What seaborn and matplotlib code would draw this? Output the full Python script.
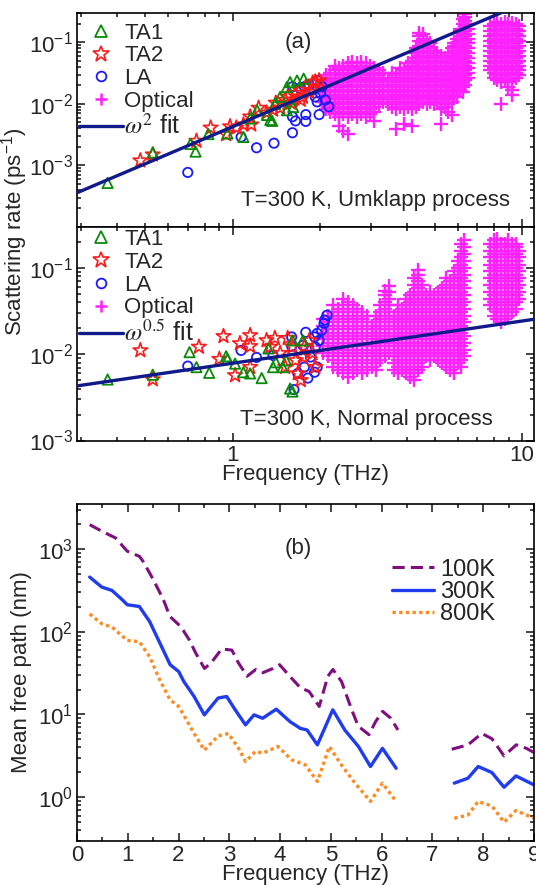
import numpy as np
import pandas as pd
import matplotlib
matplotlib.use("Agg")
import matplotlib.pyplot as plt
import seaborn as sns
from matplotlib.ticker import LogLocator, NullFormatter, MultipleLocator, FixedLocator, FixedFormatter
from matplotlib.lines import Line2D

# ---------------- data: panel (a) Umklapp ----------------
ta1_u_f = [0.37, 0.53, 0.715, 0.745, 0.825, 0.96, 1.09, 1.15, 1.215, 1.315, 1.35, 1.40, 1.46, 1.54,
           1.58, 1.67, 1.76, 1.54, 1.62, 1.37]
ta1_u_r = [5.2e-4, 1.62e-3, 2.24e-3, 1.68e-3, 3.24e-3, 3.3e-3, 2.9e-3, 5.8e-3, 7.9e-3, 6.6e-3, 5.5e-3,
           0.010, 0.013, 0.0188, 0.0226, 0.024, 0.0257, 7.9e-3, 8.9e-3, 5.3e-3]
ta2_u_f = [0.48, 0.53, 0.75, 0.84, 0.95, 0.98, 1.03, 1.09, 1.15, 1.16, 1.23, 1.31, 1.38, 1.41, 1.46,
           1.52, 1.55, 1.59, 1.65, 1.71, 1.75, 1.79, 1.84, 1.89, 1.93, 1.99, 1.61, 1.72]
ta2_u_r = [1.2e-3, 1.5e-3, 2.5e-3, 4.1e-3, 3.2e-3, 4.3e-3, 4.1e-3, 4.6e-3, 6.2e-3, 4.6e-3, 8.6e-3, 7.2e-3,
           8.0e-3, 0.0104, 8.6e-3, 0.0116, 0.013, 0.0104, 0.015, 0.0168, 0.013, 0.019, 0.0156, 0.022,
           0.023, 0.024, 0.0116, 0.0116]
la_u_f = [0.70, 1.07, 1.21, 1.39, 1.61, 1.61, 1.65, 1.79, 1.79, 1.99, 1.96, 2.09, 2.15, 1.61, 1.71, 1.77,
          1.84, 1.92, 1.96, 1.89, 2.01, 2.04, 1.93]
la_u_r = [7.7e-4, 2.9e-3, 1.94e-3, 2.3e-3, 3.4e-3, 6.2e-3, 5.3e-3, 6.7e-3, 5.2e-3, 6.7e-3, 0.0108, 0.0116,
          9.0e-3, 0.019, 0.018, 0.019, 0.020, 0.022, 0.024, 0.0168, 0.015, 0.019, 0.013]
opt_u_cols_f = [2.03, 2.10, 2.17, 2.25, 2.33, 2.41, 2.50, 2.59, 2.68, 2.78, 2.88, 2.98, 3.09, 3.20, 3.31,
                3.45, 3.56, 3.67, 3.79, 3.91, 4.04, 4.17,
                4.30, 4.42, 4.55, 4.68, 4.82, 4.96, 5.10, 5.25, 5.40, 5.56, 5.72,
                5.84, 5.97, 6.10, 6.23, 6.36, 6.49,
                7.75, 7.98, 8.22, 8.46, 8.71, 8.97, 9.24, 9.52, 9.78]
opt_u_cols_r = [
    [0.0108, 0.013, 0.0155, 0.0186, 0.0223],
    [0.0082, 0.0099, 0.0118, 0.0142, 0.017, 0.0204, 0.0245, 0.0293],
    [0.0075, 0.009, 0.0108, 0.013, 0.0155, 0.0186, 0.0223, 0.0268, 0.032],
    [0.0068, 0.0082, 0.0099, 0.0118, 0.0142, 0.017, 0.0204, 0.0245, 0.0293, 0.035, 0.042],
    [0.0043, 0.0062, 0.0075, 0.009, 0.0108, 0.013, 0.0155, 0.0186, 0.0223, 0.0268, 0.032, 0.0385],
    [0.0036, 0.0068, 0.0082, 0.0099, 0.0118, 0.0142, 0.017, 0.0204, 0.0245, 0.0293, 0.035, 0.042],
    [0.0033, 0.0062, 0.0075, 0.009, 0.0108, 0.013, 0.0155, 0.0186, 0.0223, 0.0268, 0.032, 0.0385, 0.046],
    [0.0068, 0.0082, 0.0099, 0.0118, 0.0142, 0.017, 0.0204, 0.0245, 0.0293, 0.035, 0.042, 0.048],
    [0.0062, 0.0075, 0.009, 0.0108, 0.013, 0.0155, 0.0186, 0.0223, 0.0268, 0.032, 0.0385, 0.046],
    [0.0068, 0.0082, 0.0099, 0.0118, 0.0142, 0.017, 0.0204, 0.0245, 0.0293, 0.035, 0.042, 0.048],
    [0.0062, 0.0075, 0.009, 0.0108, 0.013, 0.0155, 0.0186, 0.0223, 0.0268, 0.032, 0.0385, 0.046],
    [0.0068, 0.0082, 0.0099, 0.0118, 0.0142, 0.017, 0.0204, 0.0245, 0.0293, 0.035, 0.042],
    [0.0052, 0.0075, 0.009, 0.0108, 0.013, 0.0155, 0.0186, 0.0223, 0.0268, 0.032, 0.0385],
    [0.0099, 0.0118, 0.0142, 0.017, 0.0204, 0.0245, 0.0293, 0.035],
    [0.0108, 0.013, 0.0155, 0.0186, 0.0223, 0.0268, 0.032],
    [0.0099, 0.0118, 0.0142, 0.017, 0.0204, 0.0245],
    [0.009, 0.0108, 0.013, 0.0155, 0.0186, 0.0223, 0.0268, 0.032],
    [0.0039, 0.0082, 0.0099, 0.0118, 0.0142, 0.017, 0.0204, 0.0245, 0.0293],
    [0.009, 0.0108, 0.013, 0.0155, 0.0186, 0.0223, 0.0268, 0.032, 0.0385],
    [0.0047, 0.0082, 0.0099, 0.0118, 0.0142, 0.017, 0.0204, 0.0245, 0.0293, 0.035],
    [0.009, 0.0108, 0.013, 0.0155, 0.0186, 0.0223, 0.0268, 0.032, 0.0385, 0.046],
    [0.0043, 0.0082, 0.0099, 0.0118, 0.0142, 0.017, 0.0204, 0.0245, 0.0293, 0.035, 0.042, 0.050],
    [0.009, 0.0108, 0.013, 0.0155, 0.0186, 0.0223, 0.0268, 0.032, 0.0385, 0.046, 0.055, 0.066, 0.08],
    [0.0099, 0.0118, 0.0142, 0.017, 0.0204, 0.0245, 0.0293, 0.035, 0.042, 0.050, 0.060, 0.072, 0.087,
     0.105, 0.126, 0.14],
    [0.0108, 0.013, 0.0155, 0.0186, 0.0223, 0.0268, 0.032, 0.0385, 0.046, 0.055, 0.066, 0.08, 0.096,
     0.115, 0.138],
    [0.0099, 0.0118, 0.0142, 0.017, 0.0204, 0.0245, 0.0293, 0.035, 0.042, 0.050, 0.060, 0.072, 0.087,
     0.105],
    [0.0108, 0.013, 0.0155, 0.0186, 0.0223, 0.0268, 0.032, 0.0385, 0.046, 0.055, 0.066, 0.08, 0.096],
    [0.0099, 0.0118, 0.0142, 0.017, 0.0204, 0.0245, 0.0293, 0.035, 0.042, 0.050, 0.060, 0.072],
    [0.0108, 0.013, 0.0155, 0.0186, 0.0223, 0.0268, 0.032, 0.0385, 0.046, 0.055, 0.066],
    [0.0048, 0.0082, 0.0099, 0.0118, 0.0142, 0.017, 0.0204, 0.0245, 0.0293, 0.035, 0.042, 0.050, 0.060],
    [0.009, 0.0108, 0.013, 0.0155, 0.0186, 0.0223, 0.0268, 0.032, 0.0385, 0.046, 0.055],
    [0.0075, 0.0099, 0.0118, 0.0142, 0.017, 0.0204, 0.0245, 0.0293, 0.035, 0.042, 0.050, 0.060],
    [0.0066, 0.0108, 0.013, 0.0155, 0.0186, 0.0223, 0.0268, 0.032, 0.0385, 0.046, 0.055, 0.066, 0.08],
    [0.0142, 0.017, 0.0204, 0.0245, 0.0293, 0.035, 0.042, 0.050, 0.060, 0.072, 0.087, 0.096],
    [0.013, 0.0155, 0.0186, 0.0223, 0.0268, 0.032, 0.0385, 0.046, 0.055, 0.066, 0.08, 0.096, 0.115],
    [0.017, 0.0204, 0.0245, 0.0293, 0.035, 0.042, 0.050, 0.060, 0.072, 0.087, 0.105, 0.126, 0.151,
     0.165],
    [0.0155, 0.0186, 0.0223, 0.0268, 0.032, 0.0385, 0.046, 0.055, 0.066, 0.08, 0.096, 0.115, 0.138,
     0.165, 0.2, 0.24],
    [0.0204, 0.0245, 0.0293, 0.035, 0.042, 0.050, 0.060, 0.072, 0.087, 0.105, 0.126, 0.151, 0.182, 0.22,
     0.26, 0.285],
    [0.0268, 0.032, 0.0385, 0.046, 0.055, 0.066, 0.08, 0.096, 0.115, 0.138, 0.165, 0.2],
    [0.035, 0.042, 0.050, 0.060, 0.072, 0.087, 0.105, 0.126, 0.151, 0.182],
    [0.0268, 0.032, 0.0385, 0.046, 0.055, 0.066, 0.08, 0.096, 0.115, 0.138, 0.165, 0.2],
    [0.0245, 0.0293, 0.035, 0.042, 0.050, 0.060, 0.072, 0.087, 0.105, 0.126, 0.151, 0.182, 0.215],
    [0.0101, 0.0223, 0.0268, 0.032, 0.0385, 0.046, 0.055, 0.066, 0.08, 0.096, 0.115, 0.138, 0.165, 0.2],
    [0.0245, 0.0293, 0.035, 0.042, 0.050, 0.060, 0.072, 0.087, 0.105, 0.126, 0.151, 0.182, 0.215],
    [0.0186, 0.0223, 0.0268, 0.032, 0.0385, 0.046, 0.055, 0.066, 0.08, 0.096, 0.115, 0.138, 0.165, 0.2],
    [0.0138, 0.017, 0.0245, 0.0293, 0.035, 0.042, 0.050, 0.060, 0.072, 0.087, 0.105, 0.126, 0.151,
     0.182, 0.21],
    [0.0268, 0.032, 0.0385, 0.046, 0.055, 0.066, 0.08, 0.096, 0.115, 0.138, 0.165, 0.2],
    [0.0293, 0.035, 0.042, 0.050, 0.060, 0.072, 0.087, 0.105, 0.126, 0.151, 0.182],
]
fit_u_f = [0.29, 11.0]
fit_u_r = [3.6e-4, 0.51]

# ---------------- data: panel (a) Normal ----------------
ta1_n_f = [0.37, 0.53, 0.71, 0.75, 0.83, 0.95, 0.96, 1.02, 1.09, 1.15, 1.26, 1.33, 1.38, 1.41, 1.49,
           1.58, 1.61, 1.61, 1.75, 1.53]
ta1_n_r = [0.0051, 0.0058, 0.0106, 0.0071, 0.0061, 0.0095, 0.0088, 0.0078, 0.0062, 0.0060, 0.0053,
           0.0117, 0.0071, 0.0081, 0.0071, 0.0040, 0.0037, 0.0145, 0.0145, 0.0085]
ta2_n_f = [0.48, 0.53, 0.765, 0.90, 0.93, 1.02, 1.06, 1.15, 1.15, 1.15, 1.31, 1.35, 1.40, 1.46, 1.52,
           1.55, 1.61, 1.65, 1.68, 1.75, 1.77, 1.84, 1.89, 1.93, 1.72]
ta2_n_r = [0.0111, 0.0051, 0.0122, 0.0088, 0.0162, 0.0057, 0.0134, 0.0166, 0.0124, 0.0071, 0.0145,
           0.0122, 0.0154, 0.0103, 0.0071, 0.0154, 0.0122, 0.0085, 0.0060, 0.0093, 0.0122, 0.0145,
           0.0103, 0.0071, 0.0050]
la_n_f = [0.70, 1.07, 1.21, 1.38, 1.60, 1.60, 1.63, 1.68, 1.77, 1.79, 1.82, 1.86, 1.92, 1.93, 1.96,
          1.96, 2.03, 2.07, 2.12, 2.08, 1.99, 1.92, 1.75]
la_n_r = [0.0073, 0.0111, 0.0092, 0.0097, 0.0159, 0.0124, 0.0039, 0.0060, 0.0071, 0.018, 0.0053,
          0.0093, 0.0062, 0.0122, 0.0175, 0.0071, 0.019, 0.0229, 0.0284, 0.025, 0.0145, 0.0159, 0.0127]
opt_n_cols_f = [2.06, 2.14, 2.22, 2.31, 2.40, 2.50, 2.60, 2.70, 2.80, 2.91, 3.02, 3.13, 3.24, 3.35, 3.46,
                3.60, 3.72, 3.84, 3.97, 4.10, 4.24, 4.38, 4.52, 4.67, 4.82, 4.98, 5.14, 5.31, 5.48,
                5.66, 5.84, 6.00, 6.14, 6.28,
                7.75, 7.98, 8.22, 8.46, 8.71, 8.97, 9.24, 9.52, 9.78]
opt_n_cols_r = [
    [0.0103, 0.0124, 0.0149, 0.0178, 0.0214, 0.0257],
    [0.0095, 0.0113, 0.0136, 0.0163, 0.0196, 0.0235, 0.0282],
    [0.0072, 0.0086, 0.0103, 0.0124, 0.0149, 0.0178, 0.0214, 0.0257, 0.0308, 0.037],
    [0.0066, 0.0079, 0.0095, 0.0113, 0.0136, 0.0163, 0.0196, 0.0235, 0.0282, 0.0338],
    [0.006, 0.0072, 0.0086, 0.0103, 0.0124, 0.0149, 0.0178, 0.0214, 0.0257, 0.0308, 0.037, 0.0444],
    [0.0055, 0.0066, 0.0079, 0.0095, 0.0113, 0.0136, 0.0163, 0.0196, 0.0235, 0.0282, 0.0338, 0.0406],
    [0.006, 0.0072, 0.0086, 0.0103, 0.0124, 0.0149, 0.0178, 0.0214, 0.0257, 0.0308, 0.037],
    [0.0066, 0.0079, 0.0095, 0.0113, 0.0136, 0.0163, 0.0196, 0.0235, 0.0282, 0.0338],
    [0.006, 0.0072, 0.0086, 0.0103, 0.0124, 0.0149, 0.0178, 0.0214, 0.0257, 0.0308],
    [0.0066, 0.0079, 0.0095, 0.0113, 0.0136, 0.0163, 0.0196, 0.0235, 0.0282],
    [0.0072, 0.0086, 0.0103, 0.0124, 0.0149, 0.0178, 0.0214],
    [0.0066, 0.0079, 0.0095, 0.0113, 0.0136, 0.0163, 0.0196, 0.0235, 0.0282],
    [0.0086, 0.0103, 0.0124, 0.0149, 0.0178, 0.0214, 0.0257, 0.0308, 0.037],
    [0.0095, 0.0113, 0.0136, 0.0163, 0.0196, 0.0235, 0.0282, 0.0338, 0.0406, 0.0487, 0.055],
    [0.0103, 0.0124, 0.0149, 0.0178, 0.0214, 0.0257, 0.0308, 0.037, 0.0444, 0.0533, 0.062],
    [0.0066, 0.0079, 0.0095, 0.0113, 0.0136, 0.0163, 0.0196, 0.0235, 0.0282],
    [0.006, 0.0072, 0.0086, 0.0103, 0.0124, 0.0149, 0.0178, 0.0214, 0.0257, 0.0308, 0.037],
    [0.0066, 0.0079, 0.0095, 0.0113, 0.0136, 0.0163, 0.0196, 0.0235, 0.0282, 0.0338],
    [0.006, 0.0072, 0.0086, 0.0103, 0.0124, 0.0149, 0.0178, 0.0214, 0.0257, 0.0308, 0.037, 0.0444],
    [0.0055, 0.0066, 0.0079, 0.0095, 0.0113, 0.0136, 0.0163, 0.0196, 0.0235, 0.0282, 0.0338, 0.0406,
     0.0487],
    [0.005, 0.006, 0.0072, 0.0086, 0.0103, 0.0124, 0.0149, 0.0178, 0.0214, 0.0257, 0.0308, 0.037,
     0.0444, 0.0533, 0.064, 0.0768],
    [0.0066, 0.0079, 0.0095, 0.0113, 0.0136, 0.0163, 0.0196, 0.0235, 0.0282, 0.0338, 0.0406, 0.0487,
     0.0584, 0.070, 0.084, 0.095],
    [0.0072, 0.0086, 0.0103, 0.0124, 0.0149, 0.0178, 0.0214, 0.0257, 0.0308, 0.037, 0.0444, 0.0533,
     0.064],
    [0.0095, 0.0113, 0.0136, 0.0163, 0.0196, 0.0235, 0.0282, 0.0338, 0.0406, 0.0487],
    [0.0086, 0.0103, 0.0124, 0.0149, 0.0178, 0.0214, 0.0257, 0.0308, 0.037, 0.0444, 0.0533],
    [0.0095, 0.0113, 0.0136, 0.0163, 0.0196, 0.0235, 0.0282, 0.0338, 0.0406, 0.0487],
    [0.0086, 0.0103, 0.0124, 0.0149, 0.0178, 0.0214, 0.0257, 0.0308, 0.037, 0.0444, 0.0533],
    [0.0079, 0.0095, 0.0113, 0.0136, 0.0163, 0.0196, 0.0235, 0.0282, 0.0338, 0.0406, 0.0487, 0.0584],
    [0.0072, 0.0086, 0.0103, 0.0124, 0.0149, 0.0178, 0.0214, 0.0257, 0.0308, 0.037, 0.0444, 0.0533,
     0.064, 0.0768],
    [0.0066, 0.0079, 0.0095, 0.0113, 0.0136, 0.0163, 0.0196, 0.0235, 0.0282, 0.0338, 0.0406, 0.0487,
     0.0584, 0.070],
    [0.006, 0.0072, 0.0086, 0.0103, 0.0124, 0.0149, 0.0178, 0.0214, 0.0257, 0.0308, 0.037, 0.0444,
     0.0533, 0.064, 0.0768, 0.092],
    [0.0079, 0.0095, 0.0113, 0.0136, 0.0163, 0.0196, 0.0235, 0.0282, 0.0338, 0.0406, 0.0487, 0.0584,
     0.070, 0.084, 0.101, 0.121],
    [0.0072, 0.0086, 0.0103, 0.0124, 0.0149, 0.0178, 0.0214, 0.0257, 0.0308, 0.037, 0.0444, 0.0533,
     0.064, 0.0768, 0.092, 0.11, 0.133, 0.159, 0.191],
    [0.0095, 0.0113, 0.0136, 0.0163, 0.0196, 0.0235, 0.0282, 0.0338, 0.0406, 0.0487, 0.0584, 0.070,
     0.084, 0.101, 0.121, 0.146, 0.175, 0.21],
    [0.037, 0.0444, 0.0533, 0.064, 0.0768, 0.092, 0.11, 0.133, 0.159, 0.191],
    [0.0282, 0.0338, 0.0406, 0.0487, 0.0584, 0.070, 0.084, 0.101, 0.121, 0.146, 0.175, 0.21],
    [0.0257, 0.0308, 0.037, 0.0444, 0.0533, 0.064, 0.0768, 0.092, 0.11, 0.133, 0.159, 0.191, 0.22],
    [0.0235, 0.0282, 0.0338, 0.0406, 0.0487, 0.0584, 0.070, 0.084, 0.101, 0.121, 0.146, 0.175, 0.19],
    [0.0257, 0.0308, 0.037, 0.0444, 0.0533, 0.064, 0.0768, 0.092, 0.11, 0.133, 0.159, 0.191],
    [0.0282, 0.0338, 0.0406, 0.0487, 0.0584, 0.070, 0.084, 0.101, 0.121, 0.146, 0.175, 0.21],
    [0.0308, 0.037, 0.0444, 0.0533, 0.064, 0.0768, 0.092, 0.11, 0.133, 0.159, 0.191],
    [0.0338, 0.0406, 0.0487, 0.0584, 0.070, 0.084, 0.101, 0.121, 0.146, 0.175, 0.19],
    [0.0444, 0.0533, 0.064, 0.0768, 0.092, 0.11, 0.133, 0.159],
]
fit_n_f = [0.29, 11.0]
fit_n_r = [4.3e-3, 0.0255]

# ---------------- data: panel (b) mean free path ----------------
mfp_100_f = [0.25, 0.49, 0.76, 0.99, 1.23, 1.30, 1.50, 1.70, 1.83, 2.04, 2.21, 2.34, 2.51, 2.64, 2.85,
             3.05, 3.18, 3.35, 3.52, 3.66, 3.86, 3.99, 4.19, 4.40, 4.57, 4.77, 4.94, 5.04, 5.21, 5.41,
             5.54, 5.75, 5.88, 6.02, 6.18, 6.32]
mfp_100_v = [1970, 1640, 1360, 940, 815, 710, 430, 245, 153, 116, 80, 55, 36, 42, 62, 60, 42, 29, 35,
             32, 36, 40, 29, 21, 19, 12.5, 29, 35, 25, 11.4, 7.2, 5.7, 8.2, 10.9, 9.0, 6.5]
mfp_100b_f = [7.38, 7.70, 7.97, 8.17, 8.41, 8.65, 8.85, 9.0]
mfp_100b_v = [3.8, 4.3, 5.9, 5.1, 3.16, 4.3, 3.9, 3.47]
mfp_300_f = [0.25, 0.486, 0.688, 0.89, 0.991, 1.227, 1.43, 1.632, 1.834, 2.003, 2.104, 2.306, 2.508,
             2.778, 2.947, 3.115, 3.318, 3.486, 3.655, 3.924, 4.194, 4.397, 4.531, 4.734, 5.037,
             5.273, 5.543, 5.779, 6.015, 6.285]
mfp_300_v = [458, 347, 316, 244, 212, 202, 133, 73, 40, 33, 25, 16.5, 9.9, 15.8, 16.5, 11.4, 7.5, 9.9,
             9.0, 11.6, 8.2, 6.8, 6.5, 4.3, 11.4, 6.5, 4.1, 2.35, 3.9, 2.24]
mfp_300b_f = [7.43, 7.70, 7.90, 8.17, 8.41, 8.645, 9.0]
mfp_300b_v = [1.48, 1.7, 2.35, 1.99, 1.32, 1.81, 1.41]
mfp_800_f = [0.25, 0.486, 0.688, 0.991, 1.227, 1.43, 1.632, 1.834, 2.003, 2.138, 2.306, 2.508, 2.778,
             2.98, 3.183, 3.318, 3.52, 3.655, 3.958, 4.228, 4.498, 4.734, 4.97, 5.206, 5.475, 5.779,
             6.015, 6.285]
mfp_800_v = [164, 125, 114, 78.5, 76, 50, 26, 15, 12.5, 9.0, 5.9, 3.7, 5.5, 5.9, 3.9, 2.7, 3.6, 3.4,
             4.1, 2.83, 2.46, 1.55, 4.1, 2.46, 1.48, 0.89, 1.48, 0.89]
mfp_800b_f = [7.43, 7.70, 7.90, 8.17, 8.41, 8.645, 9.0]
mfp_800b_v = [0.557, 0.61, 0.89, 0.785, 0.50, 0.69, 0.557]

legend_a = ["TA1", "TA2", "LA", "Optical"]
legend_b = ["100K", "300K", "800K"]
xticks_a = [1, 10]
xticklabels_a = ["1", "10"]

# ---------------- style ----------------
sns.set_theme(style="ticks")
plt.rcParams["font.family"] = ["Liberation Sans", "DejaVu Sans"]
plt.rcParams["mathtext.fontset"] = "stix"
plt.rcParams["axes.linewidth"] = 1.2
plt.rcParams["axes.edgecolor"] = "black"

C_TA1 = "#0a8a0a"
C_TA2 = "#ff1a1a"
C_LA = "#1a1aff"
C_OPT = "#ff22ff"
C_FIT = "#101a8a"

W, H = 536, 885
fig = plt.figure(figsize=(W / 100, H / 100), dpi=100)
L, R = 77, 534


def add_ax(top, bottom):
    return fig.add_axes([L / W, 1 - bottom / H, (R - L) / W, (bottom - top) / H])


ax1 = add_ax(13, 227)
ax2 = add_ax(227, 440.5)
ax3 = add_ax(504, 840.5)


def flatten(cols_f, cols_r):
    fx, ry = [], []
    for f, rs in zip(cols_f, cols_r):
        for r in rs:
            fx.append(f)
            ry.append(r)
    return fx, ry


def scatter_panel(ax, ta1f, ta1r, ta2f, ta2r, laf, lar, ocf, ocr, fitf, fitr, fitlabel, legtop):
    of, orr = flatten(ocf, ocr)
    sns.scatterplot(x=of, y=orr, ax=ax, marker="+", s=95, color=C_OPT, linewidth=1.7,
                    zorder=2)
    sns.scatterplot(x=laf, y=lar, ax=ax, marker="o", s=45, facecolor="none", edgecolor=C_LA,
                    linewidth=1.3, zorder=3)
    sns.scatterplot(x=ta2f, y=ta2r, ax=ax, marker="*", s=120, facecolor="none", edgecolor=C_TA2,
                    linewidth=1.2, zorder=3)
    sns.scatterplot(x=ta1f, y=ta1r, ax=ax, marker="^", s=55, facecolor="none", edgecolor=C_TA1,
                    linewidth=1.3, zorder=4)
    sns.lineplot(x=fitf, y=fitr, ax=ax, color=C_FIT, linewidth=2.4, zorder=5)
    ax.set_xscale("log")
    ax.set_yscale("log")
    ax.set_xlim(0.29, 11.0)
    handles = [
        Line2D([], [], marker="^", ls="none", mfc="none", mec=C_TA1, mew=1.3, ms=8),
        Line2D([], [], marker="*", ls="none", mfc="none", mec=C_TA2, mew=1.2, ms=12),
        Line2D([], [], marker="o", ls="none", mfc="none", mec=C_LA, mew=1.3, ms=7),
        Line2D([], [], marker="+", ls="none", color=C_OPT, mew=1.8, ms=9),
        Line2D([], [], color=C_FIT, lw=2.4),
    ]
    leg = ax.legend(handles, legend_a + [fitlabel], loc="upper left", bbox_to_anchor=(0.004, legtop),
                    frameon=False, fontsize=16, handlelength=2.0, handletextpad=0.05,
                    labelspacing=0.08, borderaxespad=0.0, borderpad=0.0)
    leg.get_texts()[4].set_fontsize(18)


scatter_panel(ax1, ta1_u_f, ta1_u_r, ta2_u_f, ta2_u_r, la_u_f, la_u_r, opt_u_cols_f, opt_u_cols_r,
              fit_u_f, fit_u_r, r"$\omega^2$ fit", 0.955)
ax1.set_ylim(1e-4, 0.3)
ax1.set_yticks([1e-3, 1e-2, 1e-1])
ax1.tick_params(axis="x", which="both", labelbottom=False)
ax1.text(0.484, 0.864, "(a)", transform=ax1.transAxes, ha="center", va="center", fontsize=16)
ax1.text(0.948, 0.125, "T=300 K, Umklapp process", transform=ax1.transAxes, ha="right",
         va="center", fontsize=16)

scatter_panel(ax2, ta1_n_f, ta1_n_r, ta2_n_f, ta2_n_r, la_n_f, la_n_r, opt_n_cols_f, opt_n_cols_r,
              fit_n_f, fit_n_r, r"$\omega^{0.5}$ fit", 0.99)
ax2.set_ylim(1e-3, 0.3)
ax2.set_yticks([1e-3, 1e-2, 1e-1])
ax2.set_xlabel("Frequency (THz)", fontsize=16, labelpad=-1)
ax2.text(0.91, 0.10, "T=300 K, Normal process", transform=ax2.transAxes, ha="right",
         va="center", fontsize=16)

for ax in (ax1, ax2):
    ax.yaxis.set_minor_locator(LogLocator(base=10, subs=np.arange(2, 10)))
    ax.yaxis.set_minor_formatter(NullFormatter())
    ax.xaxis.set_major_locator(FixedLocator(xticks_a))
    ax.xaxis.set_major_formatter(FixedFormatter(xticklabels_a))
    ax.xaxis.set_minor_locator(LogLocator(base=10, subs=np.arange(2, 10)))
    ax.xaxis.set_minor_formatter(NullFormatter())

fig.text(15 / W, 1 - 232 / H, r"Scattering rate (ps$^{\mathdefault{-1}}$)", rotation=90,
         ha="center", va="center", fontsize=16)

# panel (b)
C100, C300, C800 = "#7f0f7f", "#1f3cf0", "#ff8a1f"
sns.lineplot(x=mfp_100_f, y=mfp_100_v, ax=ax3, color=C100, lw=2.2, linestyle=(0, (4, 2)))
sns.lineplot(x=mfp_100b_f, y=mfp_100b_v, ax=ax3, color=C100, lw=2.2, linestyle=(0, (4, 2)))
sns.lineplot(x=mfp_300_f, y=mfp_300_v, ax=ax3, color=C300, lw=2.4)
sns.lineplot(x=mfp_300b_f, y=mfp_300b_v, ax=ax3, color=C300, lw=2.4)
sns.lineplot(x=mfp_800_f, y=mfp_800_v, ax=ax3, color=C800, lw=2.4, linestyle=(0, (1, 1)))
sns.lineplot(x=mfp_800b_f, y=mfp_800b_v, ax=ax3, color=C800, lw=2.4, linestyle=(0, (1, 1)))
ax3.set_yscale("log")
ax3.set_xlim(0, 9)
ax3.set_ylim(0.3, 3500)
ax3.xaxis.set_major_locator(MultipleLocator(1))
ax3.xaxis.set_minor_locator(MultipleLocator(0.5))
ax3.yaxis.set_minor_locator(LogLocator(base=10, subs=np.arange(2, 10)))
ax3.yaxis.set_minor_formatter(NullFormatter())
ax3.set_yticks([1, 10, 100, 1000])
ax3.set_xlabel("Frequency (THz)", fontsize=16, labelpad=-1)
ax3.set_ylabel("Mean free path (nm)", fontsize=16, labelpad=4)
ax3.text(0.484, 0.869, "(b)", transform=ax3.transAxes, ha="center", va="center", fontsize=16)
hb = [Line2D([], [], color=C100, lw=2.2, linestyle=(0, (4, 2))),
      Line2D([], [], color=C300, lw=2.4),
      Line2D([], [], color=C800, lw=2.4, linestyle=(0, (1, 1)))]
ax3.legend(hb, legend_b, loc="upper left", bbox_to_anchor=(0.689, 0.838), frameon=False,
           fontsize=17, handlelength=1.8, handletextpad=0.25, labelspacing=0.02,
           borderaxespad=0.0, borderpad=0.0)

for ax in (ax1, ax2, ax3):
    ax.tick_params(which="both", direction="in", top=True, right=True, labelsize=16, width=1.2,
                   pad=3)
    ax.tick_params(which="major", length=6)
    ax.tick_params(which="minor", length=3)
    for s in ax.spines.values():
        s.set_linewidth(1.2)

fig.savefig("out.png", dpi=100)
